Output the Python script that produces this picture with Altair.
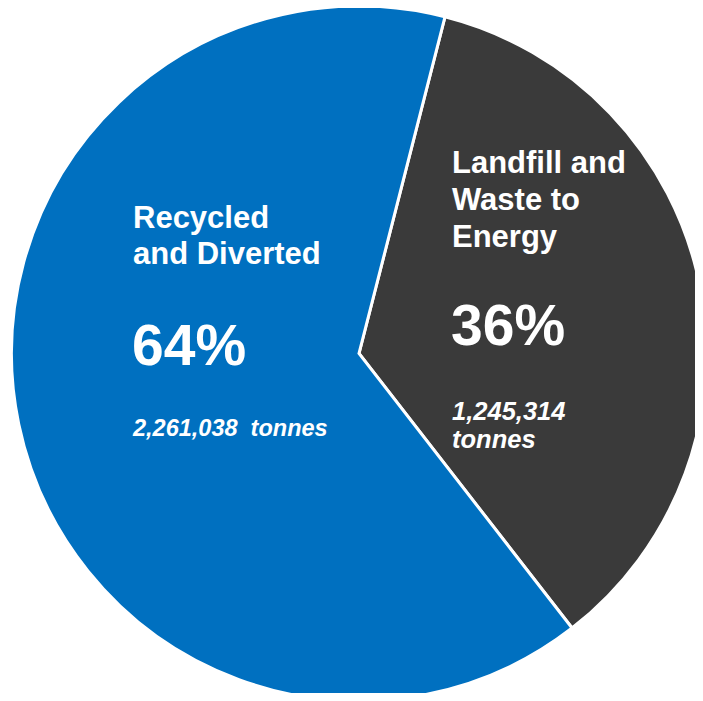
import altair as alt
import pandas as pd
import math

categories = ["Landfill and Waste to Energy", "Recycled and Diverted"]
tonnes = [1245314, 2261038]
order_idx = [0, 1]
slice_colors = ["#3A3A3A", "#0070C0"]

label_lines = [["Landfill and", "Waste to", "Energy"], ["Recycled", "and Diverted"]]
pct_labels = ["36%", "64%"]
tonne_labels = [["1,245,314", "tonnes"], ["2,261,038\u00a0 tonnes"]]

df = pd.DataFrame({"category": categories, "tonnes": tonnes, "ord": order_idx})

offset = 0.25
pie = alt.Chart(df).mark_arc(stroke="white", strokeWidth=3, radius=347.5).encode(
    theta=alt.Theta("tonnes:Q", stack=True, scale=alt.Scale(range=[offset, offset + 2 * math.pi])),
    order=alt.Order("ord:Q"),
    color=alt.Color("category:N", scale=alt.Scale(domain=categories, range=slice_colors), legend=None),
    x=alt.value(351),
    y=alt.value(345.5),
)

font = "Liberation Sans"

def txt(text, x, y, size, italic=False, lh=None):
    d = pd.DataFrame({"t": [text]})
    kw = dict(font=font, fontSize=size, fontWeight="bold", color="white", align="left", baseline="alphabetic")
    if italic:
        kw["fontStyle"] = "italic"
    if lh:
        kw["lineHeight"] = lh
    return alt.Chart(d).mark_text(**kw).encode(text="t:N", x=alt.value(x), y=alt.value(y))

layers = [
    pie,
    txt(label_lines[1], 125, 220, 31, lh=36),
    txt(pct_labels[1], 124, 357, 57),
    txt(tonne_labels[1][0], 125, 428, 23.5, italic=True),
    txt(label_lines[0], 444, 165, 31, lh=37),
    txt(pct_labels[0], 443, 337, 57),
    txt(tonne_labels[0], 444, 412, 25.5, italic=True, lh=28),
]

chart = alt.layer(*layers).properties(
    width=687, height=685, padding=0, autosize=alt.AutoSizeParams(type="none")
).configure_view(stroke=None)

chart.save("out.html", embed_options={"renderer": "svg", "actions": False})
